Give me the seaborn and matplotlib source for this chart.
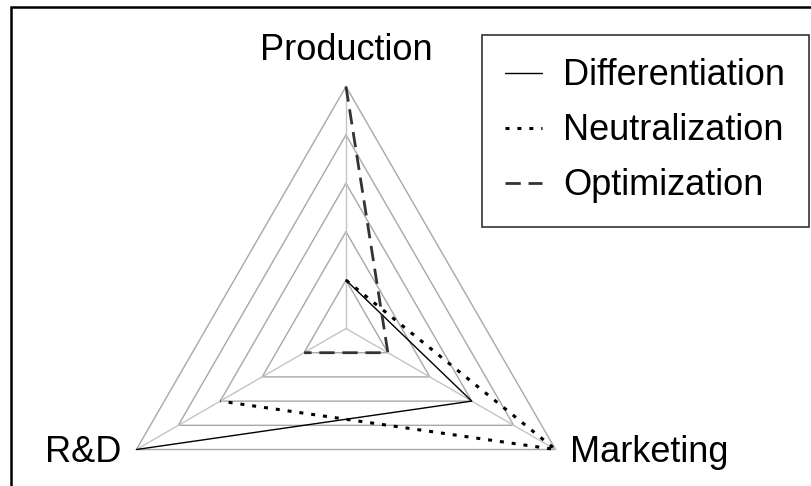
import numpy as np
import matplotlib
matplotlib.use("Agg")
import matplotlib.pyplot as plt
from matplotlib.patches import Rectangle
import seaborn as sns

# Radar chart of three strategies over three functions

categories = ["Production", "Marketing", "R&D"]
angles_deg = [90, -30, 210]
levels = [1, 2, 3, 4, 5]

differentiation = [1, 3, 5]
neutralization = [1, 5, 3]
optimization = [5, 1, 1]

sns.set_style("white")
plt.rcParams["font.family"] = ["Liberation Sans", "DejaVu Sans"]
plt.rcParams["text.color"] = "black"

fig = plt.figure(figsize=(8.11, 4.86), dpi=100)
ax = fig.add_axes([0.1282, -0.1739, 0.5968, 0.9959], projection="polar")

theta = np.deg2rad(angles_deg + angles_deg[:1])

# triangular grid and spokes
for lv in levels:
    ax.plot(theta, [lv] * len(theta), color="#a8a8a8", lw=1.0, clip_on=False)
for a in angles_deg:
    ax.plot([np.deg2rad(a)] * 2, [0, levels[-1]], color="#c4c4c4", lw=1.0, clip_on=False)

series = [
    ("Differentiation", differentiation, "black", 1.0, "-"),
    ("Neutralization", neutralization, "black", 2.2, (0, (1.3, 2.6))),
    ("Optimization", optimization, "#333333", 2.0, (0, (5.5, 2.8))),
]
for name, vals, col, lw, ls in series:
    sns.lineplot(x=theta, y=vals + vals[:1], sort=False, ax=ax, color=col,
                 lw=lw, linestyle=ls, label=name, clip_on=False)

ax.set_ylim(0, 5)
ax.set_axis_off()
ax.get_legend().remove()

# axis labels
offsets = [(0, 36, "center", "center"), (14, -3, "left", "center"), (-15, -3, "right", "center")]
for cat, a, (dx, dy, ha, va) in zip(categories, angles_deg, offsets):
    ax.annotate(cat, xy=(np.deg2rad(a), levels[-1]), xytext=(dx, dy),
                textcoords="offset pixels", ha=ha, va=va, fontsize=26,
                color="black", annotation_clip=False)

handles, labels = ax.get_legend_handles_labels()
leg = fig.legend(handles, labels, loc="upper left", bbox_to_anchor=(482 / 811, 1 - 35 / 486),
                 fontsize=26, frameon=True, fancybox=False,
                 borderaxespad=0, borderpad=0.65, handlelength=1.0,
                 handletextpad=0.6, labelspacing=0.55)
leg.get_frame().set_linewidth(1.2)
leg.get_frame().set_edgecolor("black")
for t in leg.get_texts():
    t.set_color("black")

# outer frame around the picture
fig.add_artist(Rectangle((11 / 811, -0.1), 1.2, 1.1 - 7 / 486, transform=fig.transFigure,
                         fill=False, edgecolor="black", lw=1.8))

fig.savefig("out.png", dpi=100)
